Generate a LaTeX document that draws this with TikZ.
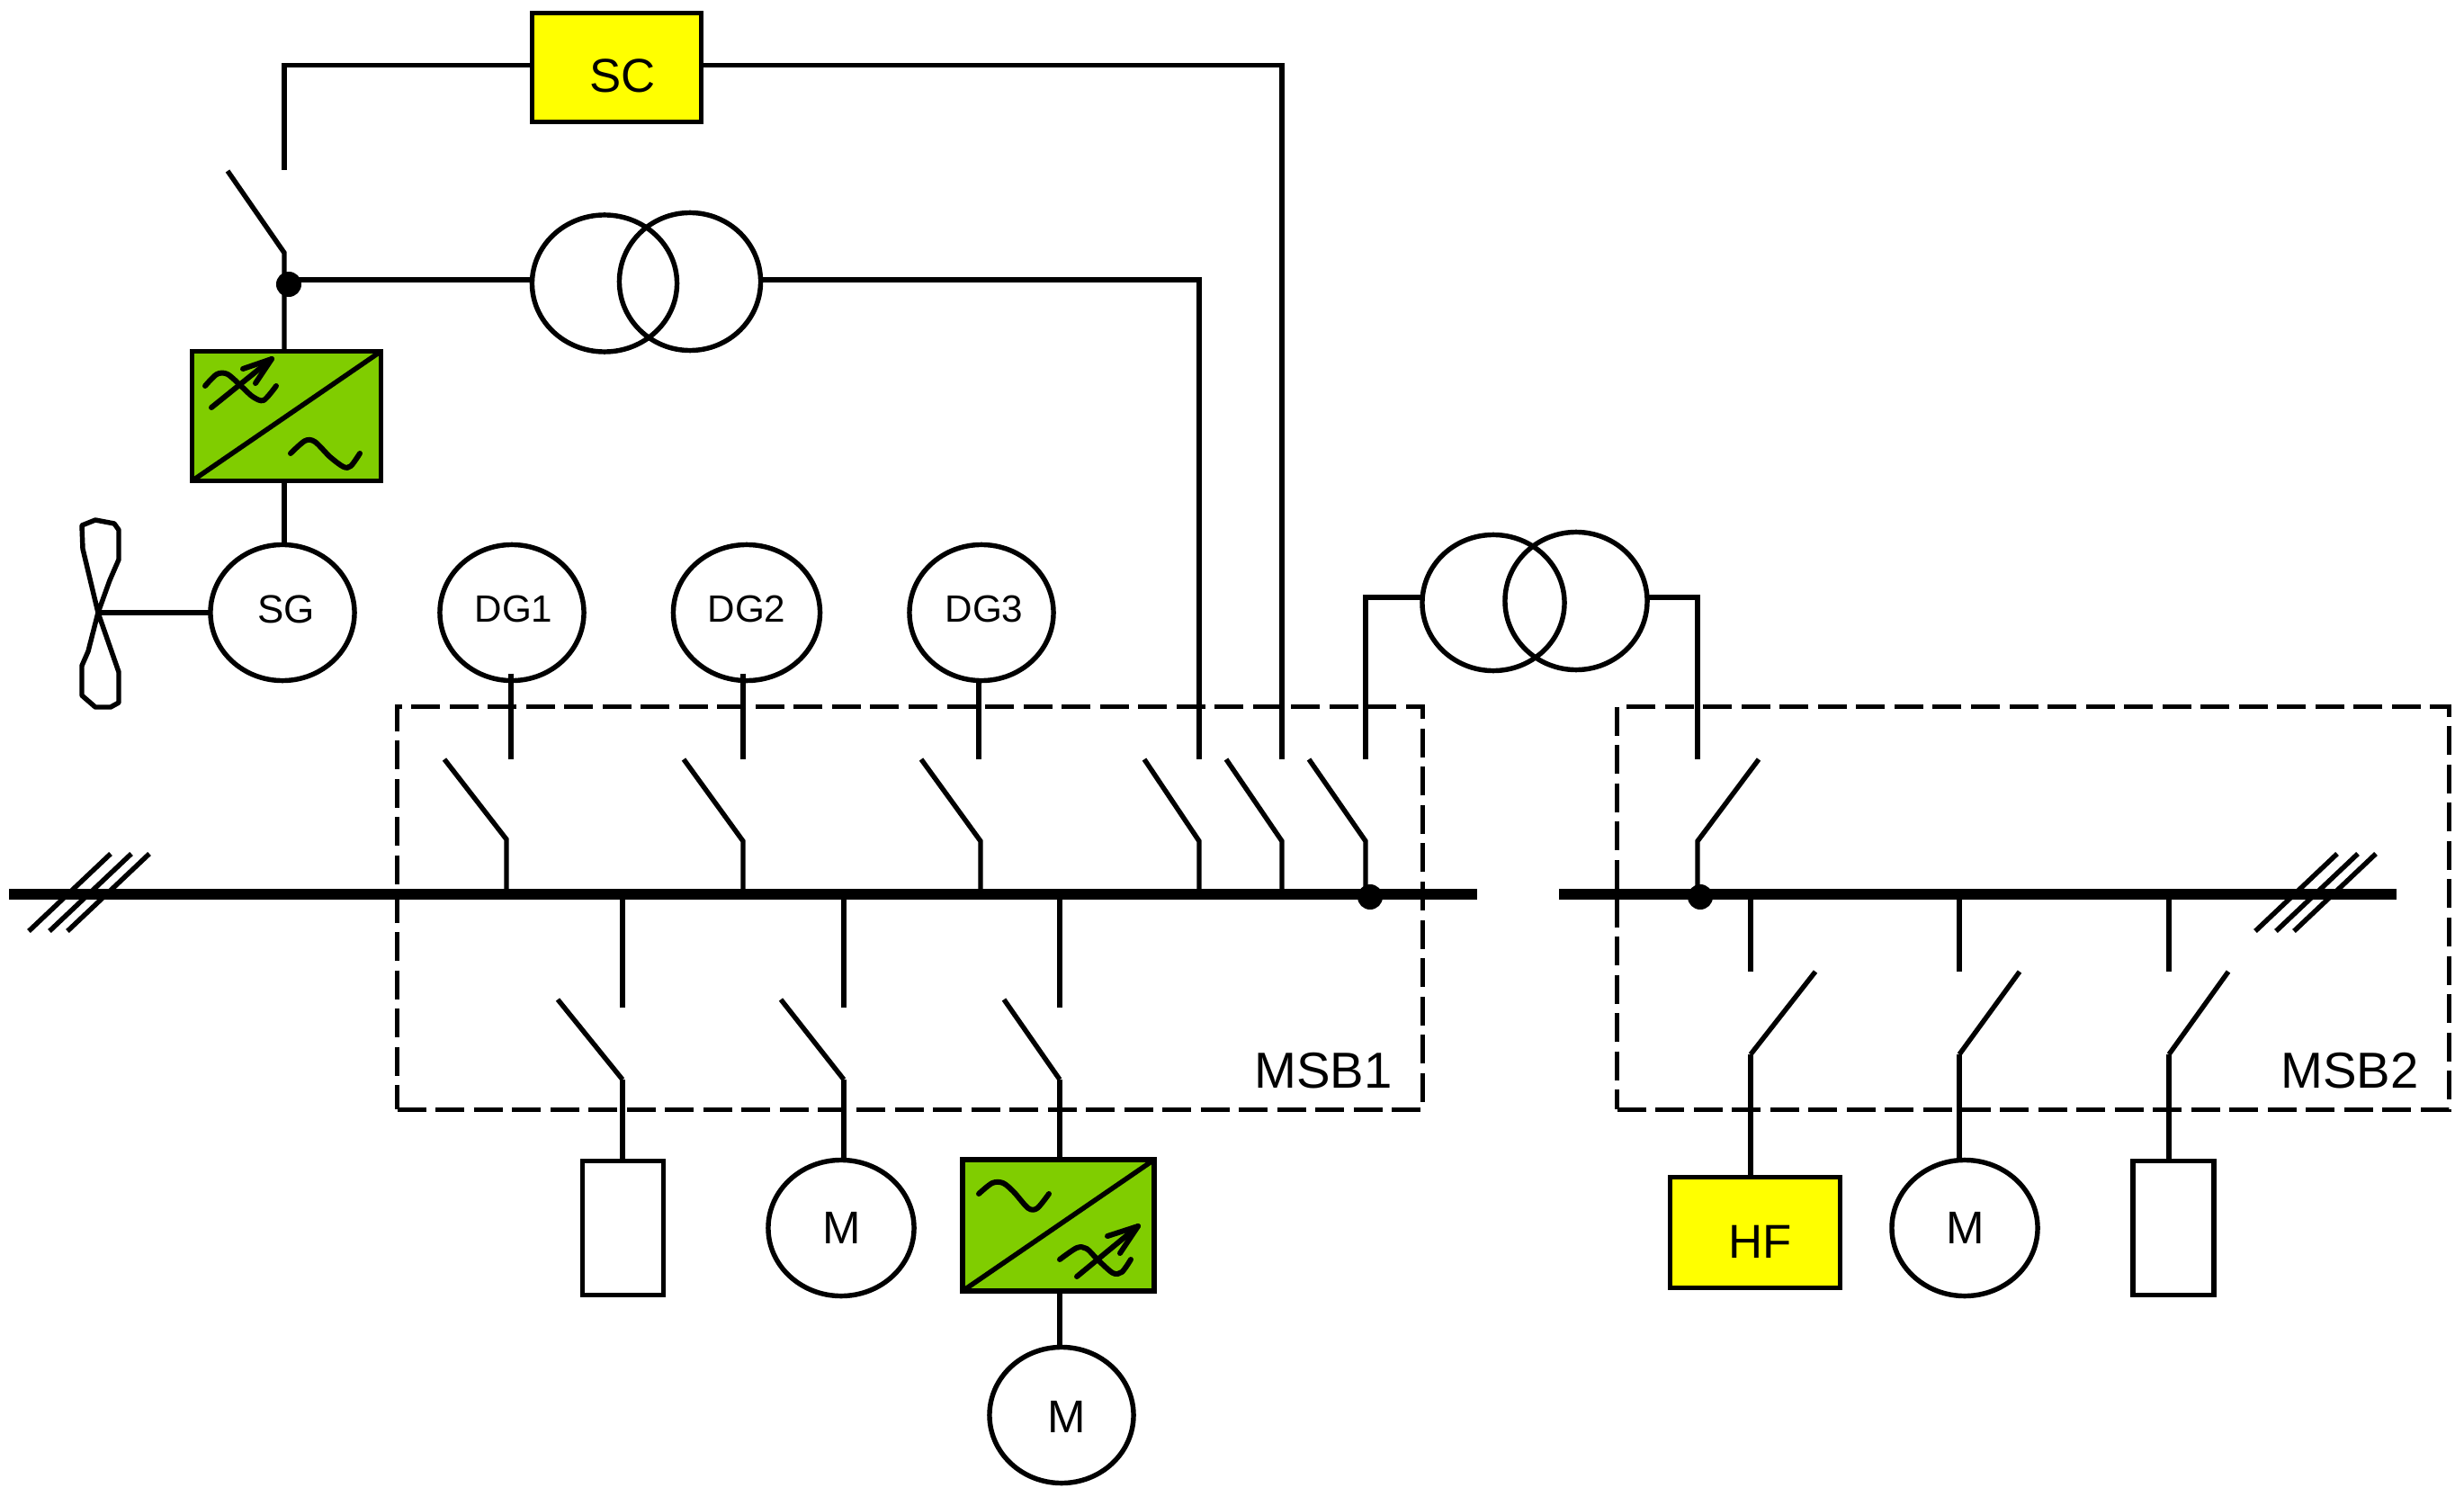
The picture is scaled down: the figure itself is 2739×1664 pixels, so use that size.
\documentclass[tikz,border=0pt]{standalone}
\usepackage{fontspec}
\setmainfont{Liberation Sans}
\usetikzlibrary{shapes.geometric}
\definecolor{convgreen}{RGB}{128,205,0}
\definecolor{unityellow}{RGB}{255,255,0}
\tikzset{
  wire/.style={line width=1.55pt,line join=miter},
  busbar/.style={line width=3.4pt},
  sym/.style={line width=1.7pt,line cap=round,line join=round},
  round unit/.style={draw,line width=1.55pt,ellipse,inner sep=0pt,outer sep=0pt,minimum width=1.6cm,minimum height=1.51cm},
  box unit/.style={draw,line width=1.55pt,rectangle,inner sep=0pt,outer sep=0pt},
  yellow unit/.style={box unit,fill=unityellow},
  conv unit/.style={box unit,fill=convgreen,minimum width=2.09cm,minimum height=1.44cm},
  load unit/.style={box unit,minimum width=.9cm,minimum height=1.49cm},
  board/.style={draw,line width=1.45pt,dash pattern=on .32cm off .105cm,rectangle,inner sep=0pt,outer sep=0pt},
  dotnode/.style={circle,fill=black,inner sep=0pt,outer sep=0pt,minimum size=.28cm},
  txt/.style={inner sep=0pt,outer sep=0pt}
}
\begin{document}
\begin{tikzpicture}[x=0.01cm,y=-0.01cm]
\useasboundingbox (0,0) rectangle (2739,1664);
% switchboards
\node[board,minimum width=11.39cm,minimum height=4.47cm] (msb1) at (1011.5,1009.5) {};
\node[board,minimum width=9.24cm,minimum height=4.47cm] (msb2) at (2260,1009.5) {};
\node[txt,font=\fontsize{16}{18}\selectfont] (msb1t) at (1471,1190) {MSB1};
\node[txt,font=\fontsize{16}{18}\selectfont] (msb2t) at (2612,1190) {MSB2};
% bus bars
\coordinate (busL0) at (10,994); \coordinate (busL1) at (1642,994);
\coordinate (busR0) at (1733,994); \coordinate (busR1) at (2664,994);
\draw[busbar] (busL0) -- (busL1);
\draw[busbar] (busR0) -- (busR1);
\foreach \d in {0,23,43}{
  \draw[wire] (32+\d,1035) -- (123+\d,949);
  \draw[wire] (2507+\d,1035) -- (2598+\d,949);
}
% units
\node[yellow unit,minimum width=1.88cm,minimum height=1.21cm] (sc) at (685.5,75) {};
\node[txt,font=\fontsize{15}{17}\selectfont] (sct) at (692,84) {SC};
\node[round unit,minimum width=1.61cm,minimum height=1.52cm] (t1a) at (672,315) {};
\node[round unit,minimum width=1.57cm,minimum height=1.53cm] (t1b) at (767,313) {};
\node[round unit,minimum width=1.58cm] (t2a) at (1660,670) {};
\node[round unit,minimum width=1.58cm,minimum height=1.53cm] (t2b) at (1752,668) {};
\node[conv unit,minimum width=2.10cm] (c1) at (318.5,462.5) {};
\node[conv unit,minimum width=2.13cm,minimum height=1.46cm] (c2) at (1176.5,1362) {};
\draw[wire] (c1.north east) -- (c1.south west);
\draw[wire] (c2.north east) -- (c2.south west);
\node[round unit] (sg) at (314,681) {};
\node[round unit] (dg1) at (569,681) {};
\node[round unit,minimum width=1.63cm] (dg2) at (830,681) {};
\node[round unit] (dg3) at (1091,681) {};
\node[txt,font=\fontsize{12.5}{14}\selectfont] (sgt) at (318,677) {SG};
\node[txt,font=\fontsize{12}{14}\selectfont] (dg1t) at (571,677) {DG1};
\node[txt,font=\fontsize{12}{14}\selectfont] (dg2t) at (830,677) {DG2};
\node[txt,font=\fontsize{12}{14}\selectfont] (dg3t) at (1094,677) {DG3};
\node[load unit] (l1) at (692.5,1365) {};
\node[load unit] (l2) at (2416,1365) {};
\node[round unit,minimum width=1.62cm] (m1) at (935,1365) {};
\node[round unit] (m2) at (1180,1573) {};
\node[round unit,minimum width=1.62cm] (m3) at (2184,1365) {};
\node[txt,font=\fontsize{14.5}{16}\selectfont] (m1t) at (936,1365) {M};
\node[txt,font=\fontsize{14.5}{16}\selectfont] (m2t) at (1186,1575) {M};
\node[txt,font=\fontsize{14.5}{16}\selectfont] (m3t) at (2185,1365) {M};
\node[yellow unit,minimum width=1.89cm,minimum height=1.23cm] (hf) at (1951,1370) {};
\node[txt,font=\fontsize{15}{17}\selectfont] (hft) at (1957,1380) {HF};
% converter symbols
\draw[sym] plot[smooth] coordinates {(228,429)(241,416)(253,416)(270,431)(281,441)(293,445)(307,429)};
\draw[sym] (235,453) -- (302,399);
\draw[sym] (270,410) -- (302,399) -- (284,426);
\draw[sym] plot[smooth] coordinates {(323,504)(339,490)(350,491)(367,508)(382,519)(390,518)(400,504)};
\draw[sym] plot[smooth] coordinates {(1088,1327)(1103,1315)(1115,1315)(1127,1325)(1143,1343)(1153,1343)(1166,1327)};
\draw[sym] plot[smooth] coordinates {(1178,1400)(1197,1387)(1208,1388)(1220,1400)(1237,1415)(1247,1414)(1257,1400)};
\draw[sym] (1197,1419) -- (1265,1363);
\draw[sym] (1231,1374) -- (1265,1363) -- (1245,1393);
% fan
\coordinate (fan) at (109,681);
\draw[wire,line join=round] (fan) -- (92,610) -- (91,584) -- (106,578) -- (127,582) -- (132,589) -- (132,622) -- (122,645) -- (fan) -- (98,724) -- (91,740) -- (91,773) -- (106,786) -- (123,786) -- (132,781) -- (132,747) -- cycle;
\draw[wire] (fan) -- (sg.west);
% generator side breaker and wiring
\coordinate (g0) at (316,189);
\coordinate (gb) at (253,190);
\coordinate (gh) at (316,281);
\coordinate (top) at (0,72.5);
\coordinate (t1y) at (0,311);
\coordinate (t2y) at (0,664);
\node[dotnode] (gd) at (321,316) {};
\draw[wire] (sc.west |- top) -- (g0 |- top) -- (g0);
\draw[wire] (gb) -- (gh) -- (gh |- c1.north);
\draw[wire] (gd |- t1y) -- (t1a.west |- t1y);
\draw[wire] (gh |- c1.south) -- (gh |- sg.north);
% feeder helper coordinates: fixed contact, blade end, hinge, bus tap
\coordinate (a1) at (568,844); \coordinate (b1) at (494,844); \coordinate (h1) at (563,933);
\coordinate (a2) at (826,844); \coordinate (b2) at (760,844); \coordinate (h2) at (826,935);
\coordinate (a3) at (1088,844); \coordinate (b3) at (1024,844); \coordinate (h3) at (1090,935);
\coordinate (a4) at (1333,844); \coordinate (b4) at (1272,844); \coordinate (h4) at (1333,935);
\coordinate (a5) at (1425,844); \coordinate (b5) at (1363,844); \coordinate (h5) at (1425,935);
\coordinate (a6) at (1518,844); \coordinate (b6) at (1455,844); \coordinate (h6) at (1518,935);
\coordinate (a7) at (1887,844); \coordinate (b7) at (1955,844); \coordinate (h7) at (1887,935);
\draw[wire] (a1) -- (a1 |- dg1.south) ++(0,-8) -- (a1);
\draw[wire] (a2) -- (a2 |- dg2.south) ++(0,-8) -- (a2);
\draw[wire] (a3) -- (a3 |- dg3.south);
\foreach \i in {1,...,7}{ \draw[wire] (b\i) -- (h\i) -- (h\i |- busL0); }
\draw[wire] (t1b.east |- t1y) -- (a4 |- t1y) -- (a4);
\draw[wire] (sc.east |- top) -- (a5 |- top) -- (a5);
\draw[wire] (a6) -- (a6 |- t2y) -- (t2a.west |- t2y);
\draw[wire] (t2b.east |- t2y) -- (a7 |- t2y) -- (a7);
\node[dotnode] (d1) at (1523,997) {};
\node[dotnode] (d2) at (1890,997) {};
% lower feeders
\coordinate (u1) at (692,1120); \coordinate (v1) at (620,1111); \coordinate (w1) at (692,1200);
\coordinate (u2) at (938,1120); \coordinate (v2) at (868,1111); \coordinate (w2) at (938,1200);
\coordinate (u3) at (1178,1120); \coordinate (v3) at (1116,1111); \coordinate (w3) at (1178,1200);
\coordinate (u4) at (1946,1080); \coordinate (v4) at (2018,1080); \coordinate (w4) at (1946,1172);
\coordinate (u5) at (2178,1080); \coordinate (v5) at (2245,1080); \coordinate (w5) at (2178,1172);
\coordinate (u6) at (2411,1080); \coordinate (v6) at (2477,1080); \coordinate (w6) at (2411,1172);
\foreach \i in {1,...,6}{ \draw[wire] (u\i) -- (u\i |- busL0); \draw[wire] (v\i) -- (w\i); }
\draw[wire] (w1) -- (w1 |- l1.north);
\draw[wire] (w2) -- (w2 |- m1.north);
\draw[wire] (w3) -- (w3 |- c2.north);
\draw[wire] (w3 |- c2.south) -- (w3 |- m2.north);
\draw[wire] (w4) -- (w4 |- hf.north);
\draw[wire] (w5) -- (w5 |- m3.north);
\draw[wire] (w6) -- (w6 |- l2.north);
\end{tikzpicture}
\end{document}
